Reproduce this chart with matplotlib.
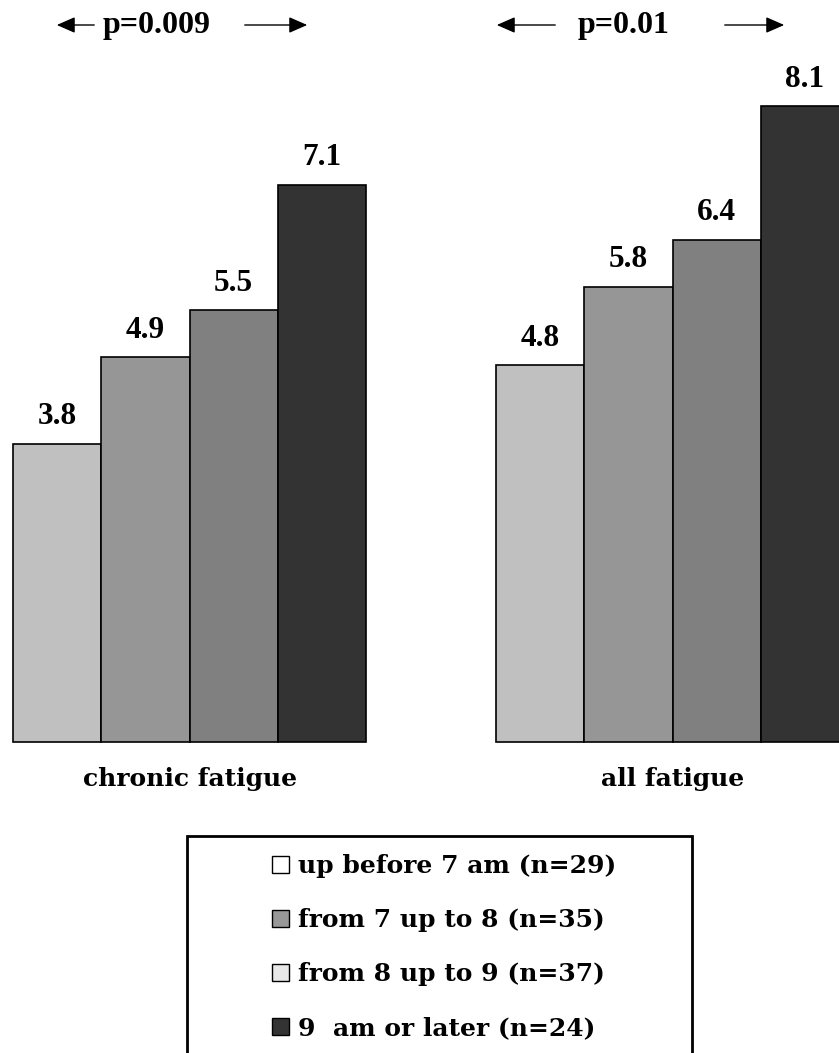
import matplotlib
matplotlib.use("Agg")
import matplotlib.pyplot as plt
from matplotlib.patches import Patch, Rectangle

# ---- data ----
groups = ["chronic fatigue", "all fatigue"]
series = ["up before 7 am (n=29)", "from 7 up to 8 (n=35)",
          "from 8 up to 9 (n=37)", "9  am or later (n=24)"]
values = {
    "chronic fatigue": [3.8, 4.9, 5.5, 7.1],
    "all fatigue": [4.8, 5.8, 6.4, 8.1],
}
p_labels = ["p=0.009", "p=0.01"]
bar_colors = ["#c0c0c0", "#969696", "#808080", "#333333"]
legend_colors = ["#ffffff", "#999999", "#e8e8e8", "#333333"]

W, H = 839, 1053
fig = plt.figure(figsize=(W / 100, H / 100), dpi=100)
fig.patch.set_facecolor("white")

# axes: baseline at y=742 px, 78.5 px per unit
base_px = 742
unit_px = 78.5
ymax = 9.4
ax = fig.add_axes([0, (H - base_px) / H, 1, ymax * unit_px / H])
bw_px = 88.3
ax.set_xlim(0, W / bw_px)
ax.set_ylim(0, ymax)
ax.axis("off")

group_starts = [13 / bw_px, 496 / bw_px]
val_font = dict(family="Liberation Serif", weight="bold", size=22.5)
for g, start in zip(groups, group_starts):
    vals = values[g]
    xs = [start + 0.5 + i for i in range(len(vals))]
    bars = ax.bar(xs, vals, width=1.0, color=bar_colors, edgecolor="black",
                  linewidth=1.2, clip_on=False)
    for x, v in zip(xs, vals):
        ax.annotate(f"{v:.1f}", (x, v), xytext=(0, 14), textcoords="offset points",
                    ha="center", va="baseline", **val_font)
    ax.text(start + 2.0, -0.47, g, ha="center", va="center",
            family="DejaVu Serif", weight="bold", size=18)

# p-value annotations with arrows (figure pixel coords)
def fpx(x, y):
    return (x / W, 1 - y / H)

p_specs = [
    (157, 25, (97, 54), (242, 310)),
    (624, 25, (558, 494), (722, 787)),
]
for lab, (cx, cy, la, ra) in zip(p_labels, p_specs):
    fig.text(*fpx(cx, cy), lab, ha="center", va="center",
             family="Liberation Serif", weight="bold", size=23)
    for tail, head in (la, ra):
        fig.add_artist(matplotlib.patches.FancyArrowPatch(
            fpx(tail, cy), fpx(head, cy), transform=fig.transFigure,
            arrowstyle="-|>,head_length=0.8,head_width=0.35", color="black",
            linewidth=1.0, mutation_scale=14))

# legend box (cut off at bottom, as in reference)
fig.add_artist(Rectangle(fpx(187, 1060), (692 - 187) / W, (1060 - 836) / H,
                         transform=fig.transFigure, facecolor="none",
                         edgecolor="black", linewidth=2.0, clip_on=False))
handles = [Patch(facecolor=c, edgecolor="black", linewidth=1.0) for c in legend_colors]
leg = fig.legend(handles, series, loc="upper left",
                 bbox_to_anchor=fpx(252, 834), frameon=False,
                 prop=dict(family="DejaVu Serif", weight="bold", size=18),
                 handlelength=0.68, handleheight=0.68, handletextpad=0.35,
                 labelspacing=1.2, borderpad=0.3)

fig.savefig("out.png", dpi=100, facecolor="white")
